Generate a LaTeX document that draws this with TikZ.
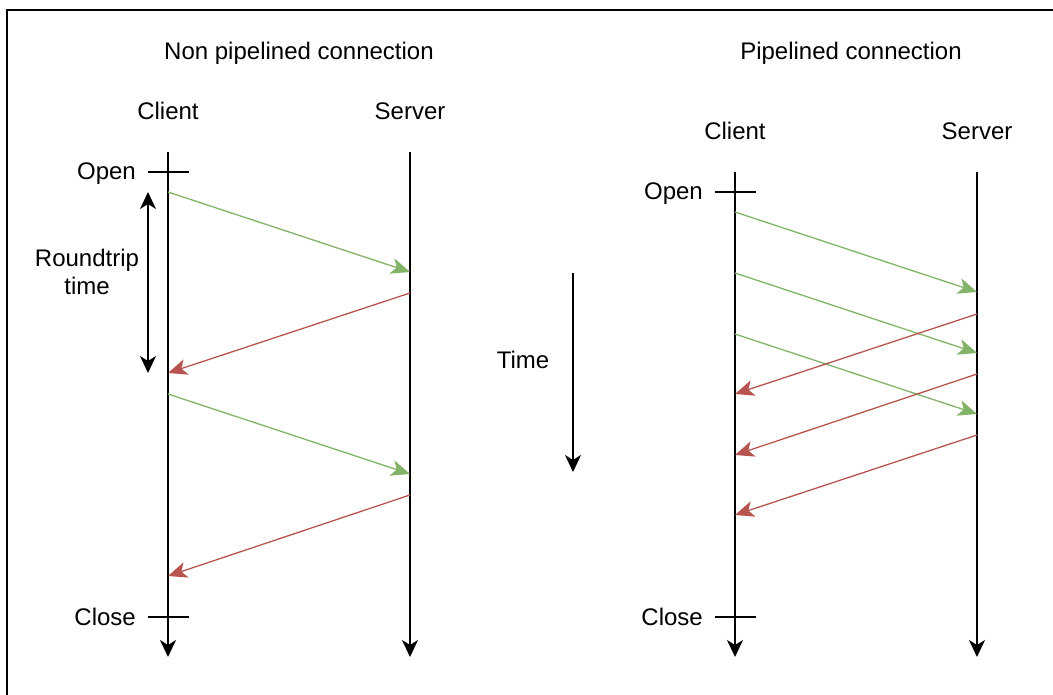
\documentclass[tikz,border=0pt]{standalone}
\usepackage{fontspec}
\setmainfont{Liberation Sans}
\usetikzlibrary{arrows.meta,positioning}
\definecolor{reqGreen}{HTML}{82B366}
\definecolor{resRed}{HTML}{B85450}
\tikzstyle{txtNode} = [font=\fontsize{24}{29}\selectfont, inner sep=0pt, anchor=base]
\tikzstyle{lifeLine} = [line width=1.8pt, -{Stealth[length=17pt,width=16pt,inset=5pt]}]
\tikzstyle{tickLine} = [line width=1.5pt]
\tikzstyle{arrowG} = [line width=1.3pt, draw=reqGreen, -{Stealth[length=19pt,width=16pt,inset=5pt,fill=reqGreen]}]
\tikzstyle{arrowR} = [line width=1.3pt, draw=resRed, -{Stealth[length=19pt,width=16pt,inset=5pt,fill=resRed]}]
\tikzstyle{bothArrow} = [line width=1.8pt, {Stealth[length=17pt,width=16pt,inset=5pt]}-{Stealth[length=17pt,width=16pt,inset=5pt]}]

\begin{document}
\begin{tikzpicture}[x=1pt, y=-1pt]
    \useasboundingbox (0,0) rectangle (1053,695);
    \draw [line width=2pt] (7,695) |- (1053,10);

    \node (titleA) [txtNode] at (299,60) {Non pipelined connection};
    \node (titleB) [txtNode] at (851,60) {Pipelined connection};

    \node (clientA) [txtNode] at (168,120) {Client};
    \node (serverA) [txtNode] at (410,120) {Server};
    \node (clientB) [txtNode] at (735,140) {Client};
    \node (serverB) [txtNode] at (977,140) {Server};

    \node (openA) [txtNode, anchor=base east] at (136,180) {Open};
    \node (closeA) [txtNode, anchor=base east] at (136,625) {Close};
    \node (openB) [txtNode, anchor=base east] at (703,200) {Open};
    \node (closeB) [txtNode, anchor=base east] at (703,625) {Close};

    \node (rtt) [txtNode] at (87,267) {Roundtrip};
    \node (rttB) [txtNode] at (87,295) {time};
    \node (time) [txtNode] at (523,368) {Time};

    % lifelines
    \coordinate (cliTopA) at (168,152);
    \coordinate (cliEndA) at (168,657);
    \coordinate (srvTopA) at (410,152);
    \coordinate (srvEndA) at (410,657);
    \coordinate (cliTopB) at (735,172);
    \coordinate (cliEndB) at (735,657);
    \coordinate (srvTopB) at (977,172);
    \coordinate (srvEndB) at (977,657);
    \draw [lifeLine] (cliTopA) -- (cliEndA);
    \draw [lifeLine] (srvTopA) -- (srvEndA);
    \draw [lifeLine] (cliTopB) -- (cliEndB);
    \draw [lifeLine] (srvTopB) -- (srvEndB);

    \coordinate (openAL) at (148,172);
    \coordinate (openAR) at (189,172);
    \coordinate (closeAL) at (148,617);
    \coordinate (closeAR) at (189,617);
    \coordinate (openBL) at (715,192);
    \coordinate (openBR) at (756,192);
    \coordinate (closeBL) at (715,617);
    \coordinate (closeBR) at (756,617);
    \draw [tickLine] (openAL) -- (openAR);
    \draw [tickLine] (closeAL) -- (closeAR);
    \draw [tickLine] (openBL) -- (openBR);
    \draw [tickLine] (closeBL) -- (closeBR);

    \coordinate (rttTop) at (148,192);
    \coordinate (rttEnd) at (148,373);
    \draw [bothArrow] (rttTop) -- (rttEnd);
    \coordinate (timeTop) at (573,273);
    \coordinate (timeEnd) at (573,472);
    \draw [lifeLine] (timeTop) -- (timeEnd);

    % non pipelined messages
    \coordinate (lc1) at (168,192);
    \coordinate (ls1) at (410,272);
    \coordinate (ls2) at (410,293);
    \coordinate (lc2) at (168,373);
    \coordinate (lc3) at (168,394);
    \coordinate (ls3) at (410,474);
    \coordinate (ls4) at (410,495);
    \coordinate (lc4) at (168,576);
    \draw [arrowG] (lc1) -- (ls1);
    \draw [arrowR] (ls2) -- (lc2);
    \draw [arrowG] (lc3) -- (ls3);
    \draw [arrowR] (ls4) -- (lc4);

    % pipelined messages
    \coordinate (rc1) at (735,212);
    \coordinate (rs1) at (977,292);
    \coordinate (rc2) at (735,273);
    \coordinate (rs2) at (977,353);
    \coordinate (rc3) at (735,334);
    \coordinate (rs3) at (977,414);
    \coordinate (rs4) at (977,314);
    \coordinate (rc4) at (735,394);
    \coordinate (rs5) at (977,374);
    \coordinate (rc5) at (735,455);
    \coordinate (rs6) at (977,435);
    \coordinate (rc6) at (735,515);
    \draw [arrowG] (rc1) -- (rs1);
    \draw [arrowG] (rc2) -- (rs2);
    \draw [arrowG] (rc3) -- (rs3);
    \draw [arrowR] (rs4) -- (rc4);
    \draw [arrowR] (rs5) -- (rc5);
    \draw [arrowR] (rs6) -- (rc6);
\end{tikzpicture}
\end{document}
